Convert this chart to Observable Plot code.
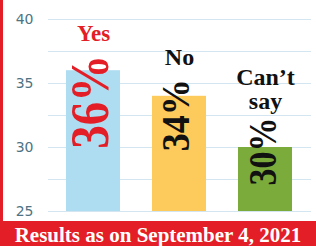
<!DOCTYPE html>
<html>
<head>
<meta charset="utf-8">
<script src="https://cdn.jsdelivr.net/npm/d3@7"></script>
<script src="https://cdn.jsdelivr.net/npm/@observablehq/plot@0.6"></script>
<style>
  html, body { margin: 0; padding: 0; background: #fff; }
  #wrap { width: 316px; height: 246px; position: relative; overflow: hidden; background: #fff; }
  #chart { border-left: 3px solid #e41e26; height: 221px; width: 313px; }
  #banner { height: 25px; line-height: 29px; background: #e41e26; color: #fff; text-align: center;
    font-family: "Liberation Serif", serif; font-weight: bold; font-size: 21px; overflow: hidden; white-space: nowrap; }
</style>
</head>
<body>
<div id="wrap">
  <div id="chart"></div>
  <div id="banner">Results as on September 4, 2021</div>
</div>
<script>
const categories = ["Yes", "No", "Can’t say"];
const values = [36, 34, 30];
const pctLabels = ["36%", "34%", "30%"];
const catLabels = ["Yes", "No", "Can’t\nsay"];
const barColors = ["#aedcf1", "#fdca5c", "#7bab3b"];
const yTicks = [25, 30, 35, 40];
const gridTicks = [25, 27.5, 30, 32.5, 35, 37.5, 40];

const data = categories.map((c, i) => ({cat: c, value: values[i], pct: pctLabels[i], lab: catLabels[i]}));
const serif = "Liberation Serif, Times New Roman, serif";
const red = "#e41e26";

// style and placement of the rotated percentage labels (condensed to a fixed length)
const pctStyle = [
  {fontSize: 54, fill: red, dy: 78, len: 94},
  {fontSize: 40, fill: "#111", dy: 55, len: 72},
  {fontSize: 41, fill: "#111", dy: 38, len: 68}
];
const catStyle = [
  {fontSize: 23, fill: red, dy: -30},
  {fontSize: 24, fill: "#111", dy: -31},
  {fontSize: 24, fill: "#111", dy: -39}
];

const marks = [
  Plot.ruleY(gridTicks, {stroke: "#d3e5f0", strokeWidth: 1}),
  Plot.barY(data, {x: "cat", y1: yTicks[0], y2: "value", fill: "cat"}),
  Plot.axisY(yTicks, {tickSize: 0, tickPadding: 15, label: null, fontSize: 14, fontFamily: "DejaVu Sans", fill: "#4d7385"})
];
data.forEach((d, i) => {
  const {len, ...st} = pctStyle[i];
  marks.push(Plot.text([d], {x: "cat", y: "value", text: "pct", rotate: -90, textAnchor: "start", lineAnchor: "middle",
    dx: -3, fontFamily: serif, fontWeight: "bold", ...st}));
  marks.push(Plot.text([d], {x: "cat", y: "value", text: "lab", textAnchor: "middle", lineAnchor: "bottom", lineHeight: 1.0,
    fontFamily: serif, fontWeight: "bold", ...catStyle[i]}));
});

const chart = Plot.plot({
  width: 313,
  height: 221,
  marginLeft: 45,
  marginRight: 5,
  marginTop: 19,
  marginBottom: 10,
  style: {background: "transparent", overflow: "visible"},
  x: {domain: categories, paddingInner: 0.37, paddingOuter: 0.2, axis: null},
  y: {domain: [25, 40], axis: null},
  color: {domain: categories, range: barColors},
  marks
});
// condense the percentage labels like the reference's narrow type
d3.select(chart).selectAll("text").each(function () {
  const t = this.textContent;
  const i = pctLabels.indexOf(t);
  if (i >= 0) {
    this.setAttribute("textLength", pctStyle[i].len);
    this.setAttribute("lengthAdjust", "spacingAndGlyphs");
  }
});
document.getElementById("chart").appendChild(chart);
</script>
</body>
</html>
